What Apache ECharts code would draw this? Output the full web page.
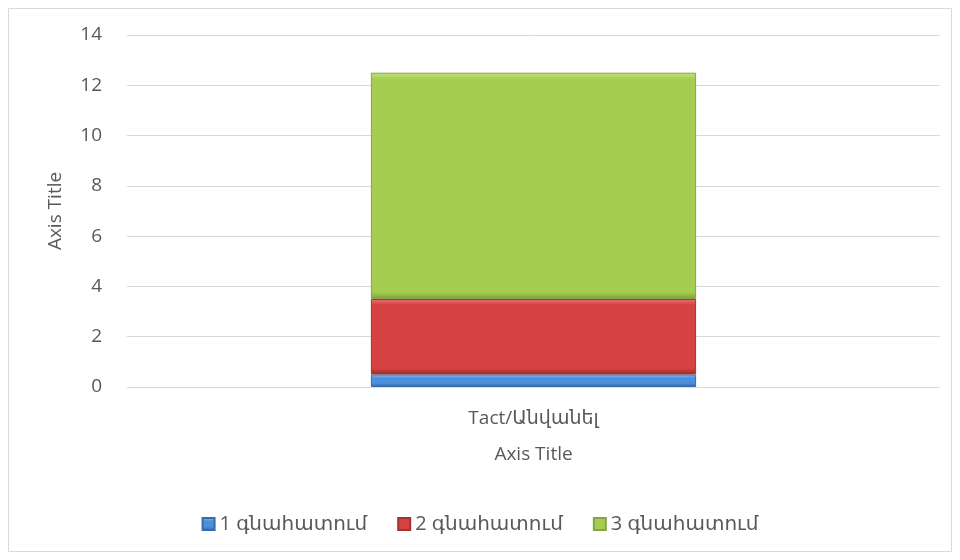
<!DOCTYPE html>
<html>
<head>
<meta charset="utf-8">
<script src="https://cdn.jsdelivr.net/npm/echarts@6/dist/echarts.min.js"></script>
<style>
  html, body { margin: 0; padding: 0; background: #fff; }
  #main { width: 960px; height: 560px; }
</style>
</head>
<body>
<div id="main"></div>
<script>
var categories = ['Tact/Անվանել'];
var seriesNames = ['1 գնահատում', '2 գնահատում', '3 գնահատում'];
var values1 = [0.5];
var values2 = [3];
var values3 = [9];
var yTicks = [0, 2, 4, 6, 8, 10, 12, 14];

var FONT = '"Open Sans", "DejaVu Sans", sans-serif';
var TXT = '#595959';

// bevel look: light strip on top, darker strip at the bottom
function bevel(light, mid, dark, edge) {
    return new echarts.graphic.LinearGradient(0, 0, 0, 1, [
        { offset: 0, color: light },
        { offset: edge, color: mid },
        { offset: 1 - edge, color: mid },
        { offset: 1, color: dark }
    ]);
}

var dom = document.getElementById('main');
var myChart = echarts.init(dom);
var option = {
    animation: false,
    textStyle: { fontFamily: FONT },
    graphic: [{
        type: 'rect',
        shape: { x: 8.5, y: 8.5, width: 943, height: 543 },
        style: { fill: 'none', stroke: '#d9d9d9', lineWidth: 1 }
    }],
    legend: {
        bottom: 21,
        left: 'center',
        itemWidth: 12,
        itemHeight: 12,
        itemGap: 30,
        icon: 'rect',
        textStyle: { color: TXT, fontSize: 20, fontFamily: FONT },
        data: seriesNames
    },
    grid: {
        left: 127,
        right: 20,
        top: 35,
        bottom: 173
    },
    xAxis: {
        type: 'category',
        data: categories,
        name: 'Axis Title',
        nameLocation: 'middle',
        nameGap: 58,
        nameTextStyle: { color: TXT, fontSize: 19, fontFamily: FONT },
        axisLine: { lineStyle: { color: '#d9d9d9' } },
        axisTick: { show: false },
        axisLabel: { color: TXT, fontSize: 19, margin: 22, fontFamily: FONT }
    },
    yAxis: {
        type: 'value',
        min: 0,
        max: 14,
        interval: 2,
        name: 'Axis Title',
        nameLocation: 'middle',
        nameGap: 62,
        nameTextStyle: { color: TXT, fontSize: 19, fontFamily: FONT },
        axisLine: { show: false },
        axisTick: { show: false },
        axisLabel: {
            color: TXT, fontSize: 19, margin: 25, fontFamily: FONT,
            formatter: function (v) { return yTicks.indexOf(v) >= 0 ? String(v) : ''; }
        },
        splitLine: { lineStyle: { color: '#d9d9d9' } }
    },
    series: [
        {
            name: seriesNames[0], type: 'bar', stack: 'total', barWidth: '40%',
            data: values1,
            itemStyle: { color: bevel('#8cc2f6', '#4b8fdd', '#2f5f9e', 0.3), borderColor: '#3a6aa8', borderWidth: 1 }
        },
        {
            name: seriesNames[1], type: 'bar', stack: 'total', barWidth: '40%',
            data: values2,
            itemStyle: { color: bevel('#ea7272', '#d44242', '#9a2b2b', 0.08), borderColor: '#a83232', borderWidth: 1 }
        },
        {
            name: seriesNames[2], type: 'bar', stack: 'total', barWidth: '40%',
            data: values3,
            itemStyle: { color: bevel('#c2e283', '#a5cd4f', '#7f9d3b', 0.03), borderColor: '#86a544', borderWidth: 1 }
        }
    ]
};
if (option && typeof option === "object") {
    myChart.setOption(option, true);
}
window.onresize = function () {
    myChart.resize();
};
</script>
</body>
</html>
